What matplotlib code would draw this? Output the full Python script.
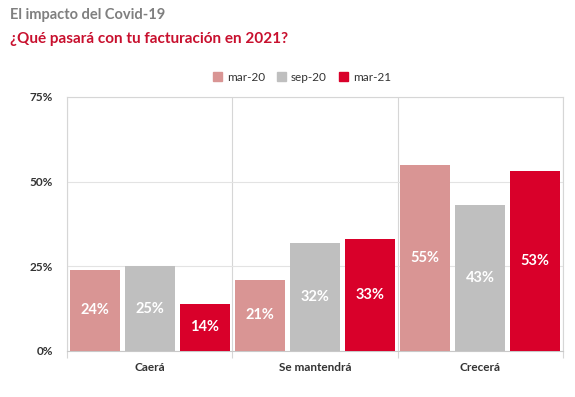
import matplotlib
matplotlib.use("Agg")
import numpy as np
import matplotlib.pyplot as plt
from matplotlib.patches import Patch

# datos
categorias = ["Caerá", "Se mantendrá", "Crecerá"]
series = ["mar-20", "sep-20", "mar-21"]
mar20 = [24, 21, 55]
sep20 = [25, 32, 43]
mar21 = [14, 33, 53]
colores = ["#d99594", "#bfbfbf", "#d9002a"]

plt.rcParams['font.family'] = ['Lato', 'DejaVu Sans']

fig = plt.figure(figsize=(5.75, 3.97), dpi=100)
ax = fig.add_axes([0.1165, 0.1159, 0.979 - 0.1165, 0.7557 - 0.1159])

x = np.arange(len(categorias))
ancho = 0.303
paso = 0.333
for i, (vals, col) in enumerate(zip([mar20, sep20, mar21], colores)):
    barras = ax.bar(x + (i - 1) * paso, vals, ancho, color=col, zorder=3)
    for b, v in zip(barras, vals):
        ax.text(b.get_x() + b.get_width() / 2, v / 2, f"{v}%",
                ha="center", va="center", color="white",
                fontsize=10.5, fontweight="bold", zorder=4)

ax.set_xlim(-0.5, 2.5)
ax.set_ylim(0, 75)
ax.set_yticks([0, 25, 50, 75])
ax.set_yticklabels(["0%", "25%", "50%", "75%"])
ax.set_xticks(x)
ax.set_xticklabels(categorias)
ax.set_xticks([-0.5, 0.5, 1.5, 2.5], minor=True)

ax.grid(axis="y", color="#e3e3e3", lw=0.8, zorder=0)
ax.grid(axis="x", which="minor", color="#d6d6d6", lw=0.8, zorder=0)
ax.tick_params(axis="x", which="major", length=0, pad=8, labelsize=8.5, labelcolor="#333333")
ax.tick_params(axis="x", which="minor", length=5, color="#d6d6d6", width=0.8)
ax.tick_params(axis="y", length=0, pad=10, labelsize=8.5, labelcolor="#333333")
for lab in ax.get_xticklabels() + ax.get_yticklabels():
    lab.set_fontweight("bold")
for s in ax.spines.values():
    s.set_color("#d6d6d6")
    s.set_linewidth(0.8)
ax.spines["bottom"].set_color("#c8c8c8")

handles = [Patch(color=c) for c in colores]
fig.legend(handles, series, loc="center", bbox_to_anchor=(0.525, 0.806), ncol=3,
           frameon=False, fontsize=8.5, handlelength=0.8, handleheight=0.8,
           handletextpad=0.4, columnspacing=1.0, labelcolor="#333333")

fig.text(0.017, 0.963, "El impacto del Covid-19", fontsize=10.5, fontweight="bold",
         color="#7f7f7f", va="center")
fig.text(0.017, 0.903, "¿Qué pasará con tu facturación en 2021?", fontsize=11,
         fontweight="bold", color="#c8102e", va="center")

fig.savefig("out.png", dpi=100)
